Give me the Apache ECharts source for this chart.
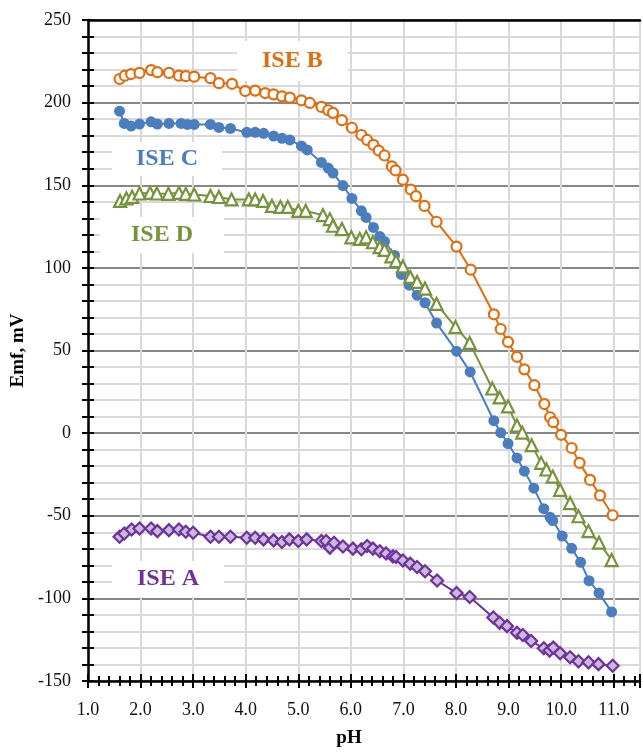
<!DOCTYPE html>
<html>
<head>
<meta charset="utf-8">
<script src="https://cdn.jsdelivr.net/npm/echarts@6/dist/echarts.min.js"></script>
<style>html,body{margin:0;padding:0;background:#fff}#c{width:643px;height:753px}</style>
</head>
<body>
<div id="c"></div>
<script>
// ISE B (orange, open circles)
const bX = [1.60,1.70,1.82,1.98,2.20,2.32,2.54,2.73,2.86,3.02,3.33,3.49,3.74,3.99,4.18,4.37,4.53,4.69,4.84,5.06,5.22,5.44,5.57,5.66,5.83,6.02,6.20,6.31,6.43,6.53,6.64,6.78,6.85,6.99,7.14,7.24,7.40,7.63,8.01,8.28,8.72,8.85,8.99,9.16,9.30,9.49,9.68,9.79,9.85,10.00,10.20,10.35,10.55,10.74,10.98];
const bY = [214.3,216.3,217.3,218,219.7,218.4,218,216.3,216,215.7,214.8,211.8,211.4,207,207.3,205.8,205,203.8,203,201.4,199.8,197.4,195.4,193.8,189.4,184.8,180.4,177.4,174.4,171,168,161.4,159,153.4,147.4,143.4,137.5,127.9,112.9,98.9,71.9,63,55.2,46.2,38.6,29,17.6,9.6,6.6,-1,-9,-18,-28.3,-37.7,-49.7];
// ISE C (blue, filled circles)
const cX = [1.60,1.69,1.82,1.98,2.20,2.32,2.54,2.77,2.89,3.02,3.33,3.49,3.71,4.02,4.18,4.34,4.53,4.69,4.84,5.06,5.17,5.44,5.57,5.66,5.85,6.02,6.20,6.29,6.43,6.55,6.64,6.83,6.96,7.11,7.26,7.41,7.63,8.01,8.27,8.72,8.85,8.99,9.16,9.30,9.48,9.67,9.79,9.84,10.02,10.20,10.37,10.53,10.72,10.96];
const cY = [194.8,187.4,185.8,187,188.4,187,187.4,187.4,186.8,186.8,186.8,185,184.4,182,182,181.4,179.8,178.4,177.4,173.8,171.4,163.8,160.4,157.4,149.8,142,134.5,130.5,124.5,119,116,107.5,96,89.5,83.5,78.9,66.6,49.6,37,7.5,0.3,-6.3,-15,-23,-33.3,-45.7,-50.9,-52.9,-62.3,-69.7,-78.2,-89.3,-96.8,-108.2];
// ISE D (green, open triangles)
const dX = [1.61,1.73,1.84,1.98,2.18,2.31,2.53,2.73,2.86,3.02,3.33,3.49,3.73,4.06,4.18,4.33,4.50,4.66,4.80,5.00,5.14,5.47,5.60,5.66,5.83,6.01,6.17,6.29,6.42,6.55,6.64,6.77,6.86,6.99,7.13,7.26,7.41,7.63,7.99,8.26,8.69,8.83,8.99,9.16,9.26,9.44,9.62,9.72,9.84,9.98,10.17,10.33,10.52,10.72,10.96];
const dY = [140.5,142,143,145,145.4,145,144.8,145.4,144.8,144.4,143.5,142.9,141.4,141.4,141.4,140.5,137.5,136.9,136.9,134.5,134.5,131.9,129.5,125.5,123.5,118.5,117.5,118.5,115.5,112.5,110.9,107,104.1,100.9,94.5,91.5,87.5,78.2,64.2,54.6,27,21.6,16.2,4.6,0.3,-7.3,-18,-22,-26.3,-34.3,-42.3,-50.3,-59.3,-66.3,-76.8];
// ISE A (purple, diamonds)
const aX = [1.60,1.69,1.83,1.98,2.20,2.32,2.54,2.73,2.86,3.00,3.33,3.49,3.71,4.02,4.18,4.34,4.53,4.69,4.83,5.00,5.16,5.44,5.53,5.60,5.68,5.85,6.04,6.20,6.31,6.42,6.55,6.67,6.80,6.86,6.99,7.13,7.26,7.41,7.64,8.01,8.26,8.71,8.83,8.97,9.16,9.27,9.43,9.67,9.78,9.85,9.98,10.17,10.33,10.52,10.71,10.98];
const aY = [-62.7,-60.7,-58.3,-57.7,-57.7,-59.3,-58.7,-58.3,-59.7,-60.3,-62.7,-62.7,-62.7,-63.3,-63.3,-64.3,-64.9,-65.9,-64.3,-65.3,-64.3,-65.3,-65.3,-69.3,-66.3,-68.6,-69.9,-70.3,-68.3,-69.9,-71.5,-72.8,-74.6,-75,-77.1,-79,-81,-83.6,-89.2,-96.8,-99.2,-111.6,-114.8,-116.8,-120.8,-122.2,-125.8,-130.2,-131.6,-129.8,-133.2,-135.6,-138.1,-138.7,-139.8,-140.8];

const xTitle = 'pH';
const yTitle = 'Emf, mV';
const seriesNames = ['ISE A','ISE B','ISE C','ISE D'];

const zip = (xs, ys) => xs.map((x, i) => [x, ys[i]]);
const FONT = '"Liberation Serif", "Times New Roman", serif';
const COL = {A:'#7030A0', B:'#E46C0A', C:'#4A7EBF', D:'#77933C'};

const chart = echarts.init(document.getElementById('c'), null, {renderer:'canvas'});
const lightGrid = '#D9D9D9', darkGrid = '#878787';

function tagTitle(text, color, left, top, padH, padV) {
  return {
    text, left, top,
    backgroundColor:'#fff',
    padding:[padV, padH, padV, padH],
    textStyle:{fontFamily:FONT, fontWeight:'bold', fontSize:24, lineHeight:24, color}
  };
}

chart.setOption({
  animation:false,
  backgroundColor:'#fff',
  title:[
    tagTitle(seriesNames[1], COL.B, 237, 41, 25, 8),
    tagTitle(seriesNames[2], COL.C, 112, 142, 24, 5),
    tagTitle(seriesNames[3], COL.D, 100, 217, 31, 6),
    tagTitle(seriesNames[0], COL.A, 112, 561, 25, 6)
  ],
  grid:{left:88, right:0, top:20, bottom:65, containLabel:false},
  xAxis:[
    {
      type:'value', min:1, max:11.5, interval:1, position:'bottom',
      name:xTitle, nameLocation:'middle', nameGap:48,
      nameTextStyle:{fontFamily:FONT, fontWeight:'bold', fontSize:19, color:'#000', padding:[0,30,0,0]},
      axisLine:{show:true, onZero:false, lineStyle:{color:'#000', width:2.5}},
      axisTick:{show:true, inside:false, length:7, lineStyle:{color:'#000', width:2}},
      minorTick:{show:true, splitNumber:5, length:5, lineStyle:{color:'#000', width:2}},
      axisLabel:{margin:20, fontFamily:FONT, fontSize:18, color:'#111',
        formatter:v => (Math.abs(v - Math.round(v)) < 1e-9 ? v.toFixed(1) : '')},
      splitLine:{show:true, lineStyle:{color:lightGrid, width:2}}
    },
    {
      type:'value', min:1, max:11.5, interval:1, position:'bottom',
      axisLine:{show:false, onZero:false},
      axisTick:{show:true, inside:true, length:7, lineStyle:{color:'#000', width:2}},
      minorTick:{show:true, splitNumber:5, length:5, lineStyle:{color:'#000', width:2}},
      axisLabel:{show:false},
      splitLine:{show:false}
    },
    {
      type:'value', min:1, max:11.5, position:'top',
      axisLine:{show:true, onZero:false, lineStyle:{color:'#000', width:2.5}},
      axisTick:{show:false}, axisLabel:{show:false}, splitLine:{show:false}
    }
  ],
  yAxis:[
    {
      type:'value', min:-150, max:250, interval:10, position:'left',
      name:yTitle, nameLocation:'middle', nameGap:55, nameRotate:90,
      nameTextStyle:{fontFamily:FONT, fontWeight:'bold', fontSize:19, color:'#000'},
      axisLine:{show:true, onZero:false, lineStyle:{color:'#000', width:2.5}},
      axisTick:{show:true, inside:false, length:6, lineStyle:{color:'#000', width:2}},
      axisLabel:{margin:17, fontFamily:FONT, fontSize:18, color:'#111',
        formatter:v => (v % 50 === 0 ? String(v) : '')},
      splitLine:{show:true, lineStyle:{color:[darkGrid, lightGrid, lightGrid, lightGrid, lightGrid], width:2}}
    },
    {
      type:'value', min:-150, max:250, interval:10, position:'left',
      axisLine:{show:false, onZero:false},
      axisTick:{show:true, inside:true, length:6, lineStyle:{color:'#000', width:2}},
      axisLabel:{show:false}, splitLine:{show:false}
    }
  ],
  series:[
    {
      name:seriesNames[0], type:'line', data:zip(aX, aY),
      symbol:'diamond', symbolSize:12,
      lineStyle:{color:COL.A, width:2},
      itemStyle:{color:'#C7BBD8', borderColor:COL.A, borderWidth:2.2}
    },
    {
      name:seriesNames[1], type:'line', data:zip(bX, bY),
      symbol:'circle', symbolSize:10,
      lineStyle:{color:COL.B, width:2},
      itemStyle:{color:'#fff', borderColor:COL.B, borderWidth:2.2}
    },
    {
      name:seriesNames[2], type:'line', data:zip(cX, cY),
      symbol:'circle', symbolSize:11,
      lineStyle:{color:COL.C, width:2},
      itemStyle:{color:COL.C, borderColor:COL.C, borderWidth:0}
    },
    {
      name:seriesNames[3], type:'line', data:zip(dX, dY),
      symbol:'triangle', symbolSize:12,
      lineStyle:{color:COL.D, width:2},
      itemStyle:{color:'#fff', borderColor:COL.D, borderWidth:2.2}
    }
  ]
});
</script>
</body>
</html>
